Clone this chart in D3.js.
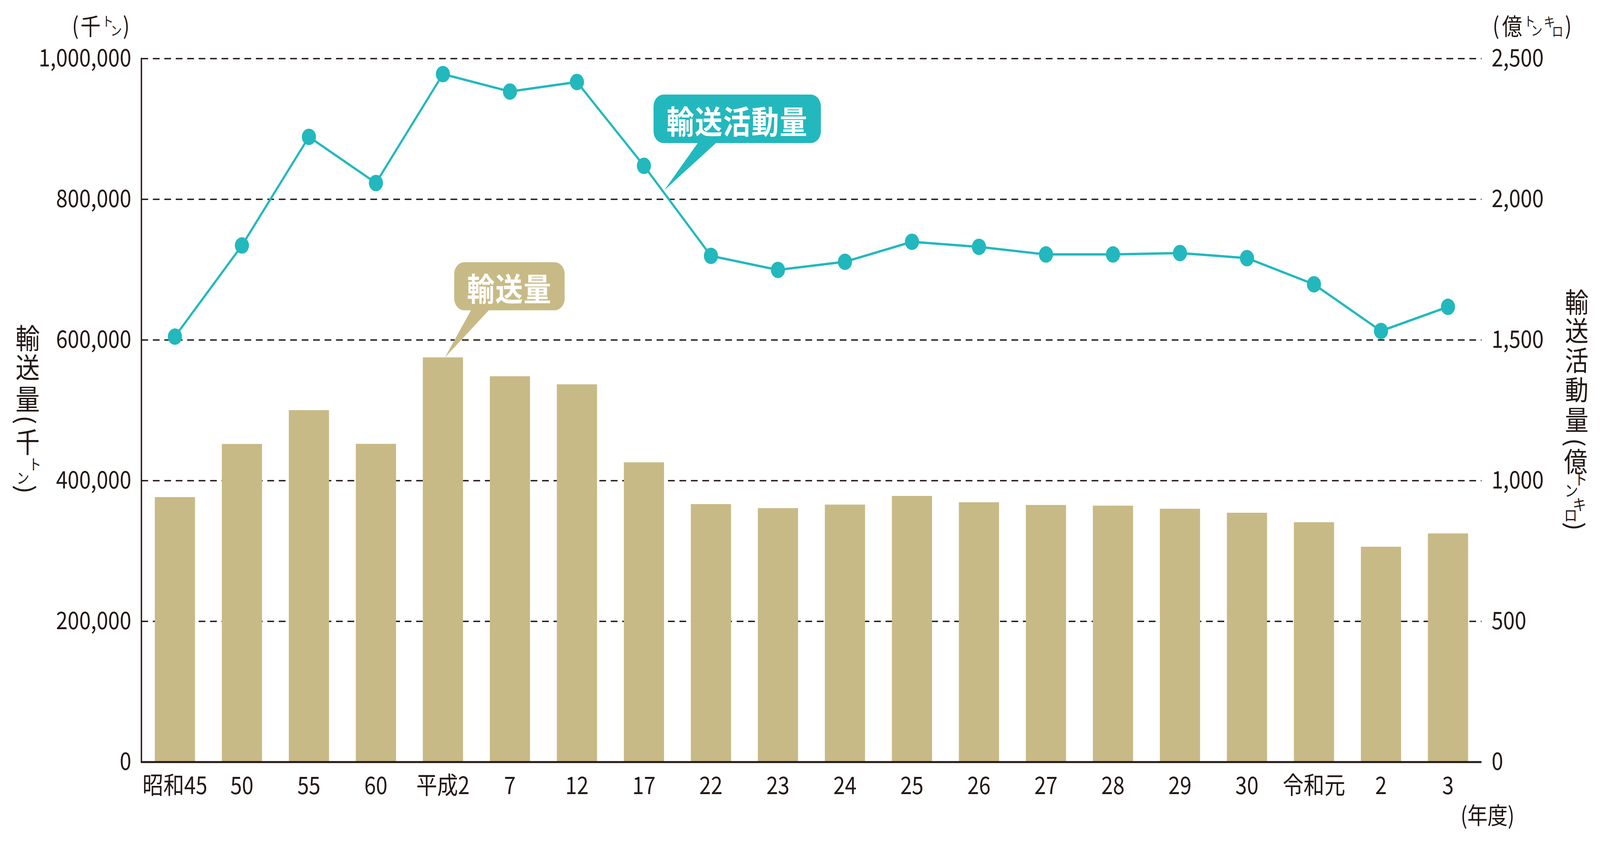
<!DOCTYPE html>
<html>
<head>
<meta charset="utf-8">
<script src="https://cdn.jsdelivr.net/npm/d3@7"></script>
<style>
  html, body { margin: 0; padding: 0; background: #fff; overflow: hidden; }
  .viz svg { display: block; width: 100vw; height: 100vh; }
  svg text { font-family: "Noto Sans CJK JP", "Noto Sans", sans-serif; fill: #231815; }
</style>
</head>
<body>
<div class="viz"></div>
<script>
// 年度
const categories = ["昭和45", "50", "55", "60", "平成2", "7", "12", "17", "22", "23",
  "24", "25", "26", "27", "28", "29", "30", "令和元", "2", "3"];
// 輸送量 (千トン)
const volume = [376700, 452200, 500300, 452400, 575300, 548500, 537000, 426100, 366700, 361000,
  366000, 378300, 369300, 365500, 364500, 360100, 354400, 341000, 306100, 325000];
// 輸送活動量 (億トンキロ)
const activity = [1512, 1836, 2222, 2058, 2445, 2383, 2417, 2119, 1799, 1749,
  1778, 1849, 1831, 1804, 1804, 1809, 1791, 1698, 1532, 1618];
const leftTicks = [0, 200000, 400000, 600000, 800000, 1000000];
const rightTicks = [0, 500, 1000, 1500, 2000, 2500];

const W = 4752, H = 2152;
const x0 = 420, x1 = 4400, yTop = 150, yBot = 1950;
const ink = "#231815", teal = "#22b8bd", tan = "#c8ba86";

// the drawing is laid out on a 4752x2152 board and stretched to the window
const svg = d3.select(".viz").append("svg")
  .attr("viewBox", `0 0 ${W} ${H}`)
  .attr("preserveAspectRatio", "none");

const x = d3.scaleBand().domain(categories).range([x0, x1])
  .paddingInner(0.4).paddingOuter(0.2);
const yL = d3.scaleLinear().domain([0, 1000000]).range([yBot, yTop]);
const yR = d3.scaleLinear().domain([0, 2500]).range([yBot, yTop]);
const cx = d => x(d) + x.bandwidth() / 2;

// grid
svg.append("g").selectAll("line")
  .data(leftTicks.filter(d => d > 0))
  .join("line")
  .attr("x1", x0).attr("x2", x1)
  .attr("y1", d => yL(d)).attr("y2", d => yL(d))
  .attr("stroke", ink).attr("stroke-width", 3.5)
  .attr("stroke-dasharray", "20 14");

// bars
svg.append("g").selectAll("rect")
  .data(categories)
  .join("rect")
  .attr("x", d => x(d))
  .attr("width", x.bandwidth())
  .attr("y", (d, i) => yL(volume[i]))
  .attr("height", (d, i) => yBot - yL(volume[i]))
  .attr("fill", tan);

// axis lines
svg.append("line").attr("x1", x0).attr("x2", x0).attr("y1", yTop - 2).attr("y2", yBot)
  .attr("stroke", ink).attr("stroke-width", 4);
svg.append("line").attr("x1", x0 - 2).attr("x2", x1).attr("y1", yBot).attr("y2", yBot)
  .attr("stroke", ink).attr("stroke-width", 5);

// axes labels
const leftAxis = svg.append("g").attr("transform", `translate(${x0},0)`)
  .call(d3.axisLeft(yL).tickValues(leftTicks).tickFormat(d3.format(",")).tickSize(0).tickPadding(30));
const rightAxis = svg.append("g").attr("transform", `translate(${x1},0)`)
  .call(d3.axisRight(yR).tickValues(rightTicks).tickFormat(d3.format(",")).tickSize(0).tickPadding(30));
const bottomAxis = svg.append("g").attr("transform", `translate(0,${yBot})`)
  .call(d3.axisBottom(x).tickSize(0).tickPadding(38));
[leftAxis, rightAxis, bottomAxis].forEach(g => {
  g.select(".domain").remove();
  g.selectAll("text").attr("font-size", 62).attr("fill", ink)
    .attr("font-family", "'Noto Sans CJK JP', sans-serif");
});

// line
const line = d3.line().x((d, i) => cx(categories[i])).y(d => yR(d));
svg.append("path").datum(activity)
  .attr("d", line).attr("fill", "none")
  .attr("stroke", teal).attr("stroke-width", 6);
svg.append("g").selectAll("circle")
  .data(activity)
  .join("circle")
  .attr("cx", (d, i) => cx(categories[i]))
  .attr("cy", d => yR(d))
  .attr("r", 21).attr("fill", teal);

// glyph helper: [char, x, y, size?, rotate?]
function glyphs(list, size) {
  svg.append("g").selectAll("text")
    .data(list)
    .join("text")
    .attr("x", d => d[1]).attr("y", d => d[2])
    .attr("font-size", d => d[3] || size)
    .attr("text-anchor", "middle")
    .attr("dominant-baseline", "central")
    .attr("transform", d => d[4] ? `rotate(${d[4]},${d[1]},${d[2]})` : null)
    .text(d => d[0]);
}

// units
glyphs([["(", 224, 62], ["千", 269, 64], ["ト", 320, 52, 34], ["ン", 345, 76, 34], [")", 375, 62]], 60);
glyphs([["(", 4443, 62], ["億", 4491, 64], ["ト", 4543, 52, 34], ["ン", 4564, 76, 34],
  ["キ", 4602, 54, 34], ["ロ", 4626, 78, 34], [")", 4658, 62]], 60);
svg.append("text").attr("x", 4418).attr("y", 2083)
  .attr("font-size", 60).attr("text-anchor", "middle").attr("dominant-baseline", "central")
  .text("(年度)");

// vertical axis titles
glyphs([["輸", 82, 860], ["送", 82, 935], ["量", 82, 1016], ["(", 82, 1074, 70, 90],
  ["千", 82, 1126], ["ト", 104, 1185, 38], ["ン", 68, 1220, 38], [")", 82, 1252, 70, 90]], 72);
glyphs([["輸", 4683, 769], ["送", 4683, 842], ["活", 4683, 918], ["動", 4683, 993],
  ["量", 4683, 1070], ["(", 4683, 1132, 68, 90], ["億", 4680, 1177], ["ト", 4695, 1224, 40],
  ["ン", 4667, 1253, 40], ["キ", 4691, 1289, 40], ["ロ", 4665, 1316, 40], [")", 4683, 1347, 68, 90]], 70);

// callouts
function callout(label, color, bx, by, bw, bh, baseA, baseB, tip) {
  const g = svg.append("g");
  g.append("path")
    .attr("d", `M${baseA},${by + bh - 2} L${tip[0]},${tip[1]} L${baseB},${by + bh - 2} Z`)
    .attr("fill", color);
  g.append("rect").attr("x", bx).attr("y", by).attr("width", bw).attr("height", bh)
    .attr("rx", 30).attr("fill", color);
  g.append("text").attr("x", bx + bw / 2).attr("y", by + bh / 2 + 2)
    .attr("text-anchor", "middle").attr("dominant-baseline", "central")
    .attr("font-size", 82).attr("font-weight", 700).style("fill", "#fff")
    .attr("letter-spacing", 2)
    .text(label);
}
const i8 = 7, i9 = 8, f = 0.3;
const tipTeal = [cx(categories[i8]) + f * (cx(categories[i9]) - cx(categories[i8])),
  yR(activity[i8]) + f * (yR(activity[i9]) - yR(activity[i8])) - 6];
callout("輸送活動量", teal, 1941, 242, 497, 124, 2074, 2129, tipTeal);
const tipTan = [cx(categories[4]) + 6, yL(volume[4])];
callout("輸送量", tan, 1349, 671, 328, 123, 1400, 1454, tipTan);
</script>
</body>
</html>
